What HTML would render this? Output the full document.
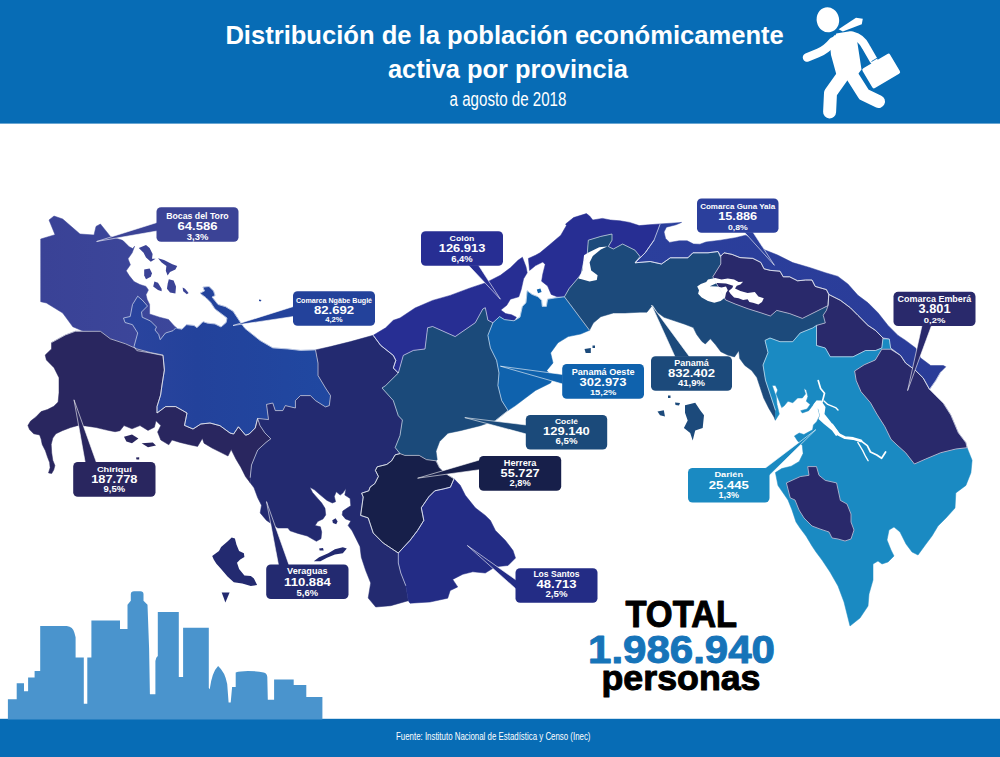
<!DOCTYPE html>
<html lang="es"><head><meta charset="utf-8"><title>Distribución de la población económicamente activa por provincia</title>
<style>
html,body{margin:0;padding:0;background:#fff}
body{width:1000px;height:757px;overflow:hidden;position:relative;font-family:"Liberation Sans",sans-serif}
svg{position:absolute;left:0;top:0;display:block}
text{font-family:"Liberation Sans",sans-serif}
.b{font-weight:bold}
.w{fill:#fff}
</style></head><body>
<svg width="1000" height="757" viewBox="0 0 1000 757">
<defs>
<linearGradient id="gn" gradientUnits="userSpaceOnUse" x1="125" y1="0" x2="330" y2="0"><stop offset="0" stop-color="#2b449e"/><stop offset="0.35" stop-color="#23429b"/><stop offset="1" stop-color="#2048a1"/></linearGradient>
<linearGradient id="gb" gradientUnits="userSpaceOnUse" x1="40" y1="0" x2="180" y2="0"><stop offset="0" stop-color="#3a4296"/><stop offset="1" stop-color="#3c479b"/></linearGradient>
<linearGradient id="gg" gradientUnits="userSpaceOnUse" x1="640" y1="230" x2="940" y2="380"><stop offset="0" stop-color="#2b3f9c"/><stop offset="1" stop-color="#2a3c98"/></linearGradient>
</defs>
<rect x="0" y="0" width="1000" height="757" fill="#fff"/>
<!-- header -->
<rect x="0" y="0" width="1000" height="123.6" fill="#076cb5"/>
<text class="b w" x="225.4" y="43.5" font-size="25" textLength="558.4" lengthAdjust="spacingAndGlyphs">Distribución de la población económicamente</text>
<text class="b w" x="387.9" y="78" font-size="25" textLength="240" lengthAdjust="spacingAndGlyphs">activa por provincia</text>
<text class="w" x="449.6" y="106" font-size="19.5" textLength="116.8" lengthAdjust="spacingAndGlyphs">a agosto de 2018</text>
<!-- running man icon -->
<g fill="#fff" stroke="none">
<ellipse cx="827.9" cy="19.8" rx="11.2" ry="12.6" transform="rotate(-12 827.9 19.8)"/>
<polygon points="838.6,29.2 856,17.8 862.8,18.8 861.8,24.2 842.8,31.6"/>
<path d="M829.6,40.5 L836.2,33.5 L850,31.2 Q856,33 857.6,44 L861.5,69.4 L852,82 L836.5,75 L831,55 Z"/>
<rect x="-16" y="-11.5" width="32" height="23" rx="2" transform="translate(881.2,71) rotate(-30.5)"/>
</g>
<g fill="none" stroke="#fff" stroke-linecap="round" stroke-linejoin="round">
<path d="M833,41.5 Q826,50 818,53 L807,57.5" stroke-width="8.5"/>
<path d="M852,35.5 Q862,38 866,47 L873.5,60" stroke-width="8.2"/>
<path d="M844,74 L830.5,93 L829.6,112" stroke-width="13"/>
<path d="M851,74 L864,94.5 L878.5,101.5" stroke-width="13"/>
</g>
<path d="M871.5,61.5 l6.5,-3.8" stroke="#076cb5" stroke-width="0.9" fill="none"/>
<polygon fill="#076cb5" points="832.6,32.6 837,31.6 835.4,35.4"/>
<!-- footer -->
<rect x="0" y="718.8" width="1000" height="38.2" fill="#076cb5"/>
<text class="w" x="396" y="739.6" font-size="10.5" textLength="194.5" lengthAdjust="spacingAndGlyphs">Fuente: Instituto Nacional de Estadística y Censo (Inec)</text>
<!-- skyline -->
<path fill="#4a94cd" d="M7.9,719.5 V699.3 H16.7 V683.2 H24 V691.2 H28.1 V677.6 H34.6 V671 H40.2 V625.9 H66.8 Q73,626.5 74.4,632.8 L75.6,637.3 V657.4 H83.8 V703.8 H87.3 V657.4 H91.4 V620.6 H120 V629 H127.5 V604.8 L130.8,600.8 V594 Q131,591.4 134,591.3 H140.5 Q143.3,591.4 143.5,594 V600.8 L147.5,604.8 L149.1,648.4 L149.9,694.3 H155.4 V661 Q156,657 157.8,656 V611.9 H178.8 V676.9 H183.1 V627.8 H208.8 V688 L209.7,689.2 Q212,672 218.1,666 Q225,672 227.2,684 L228.6,702.5 H230.7 L232.1,687.1 H235.7 V672.4 Q240,671.2 248,671 Q258,671 263.6,672.4 Q267,673 267.3,677 L267.8,699.7 H274.1 V679.4 H293.7 V685 H306.3 V696.9 H322.4 V719.5 Z"/>
<!-- total -->
<text class="b" x="625.4" y="626.6" font-size="36.5" fill="#000" stroke="#000" stroke-width="1" stroke-linejoin="round" textLength="111.7" lengthAdjust="spacingAndGlyphs">TOTAL</text>
<text class="b" x="588" y="662.6" font-size="38.2" fill="#1674b9" stroke="#1674b9" stroke-width="1" stroke-linejoin="round" textLength="187" lengthAdjust="spacingAndGlyphs">1.986.940</text>
<text class="b" x="601.5" y="690.4" font-size="35" fill="#000" stroke="#000" stroke-width="1" stroke-linejoin="round" textLength="159" lengthAdjust="spacingAndGlyphs">personas</text>
<!-- map -->
<g stroke-linejoin="round">
<polygon fill="url(#gb)" stroke="url(#gb)" stroke-width="0.5" points="40.7,239.0 55.0,234.7 49.0,220.0 54.0,216.0 62.7,219.0 80.0,234.0 94.0,235.0 96.0,226.4 100.4,224.0 110.4,236.4 121.7,240.0 123.2,240.8 129.2,246.8 132.8,248.6 134.6,246.2 132.2,252.8 128.0,258.8 130.4,264.8 126.2,270.8 129.2,275.6 134.0,281.6 140.0,284.6 146.0,286.4 148.4,290.0 146.0,294.8 147.2,299.6 149.6,304.4 149.6,314.0 159.5,317.2 168.5,319.5 174.5,326.2 177.5,328.5 176.0,335.0 165.0,345.0 160.0,357.0 136.8,350.6 125.5,345.6 110.4,339.3 100.4,331.8 82.8,331.0 72.8,326.8 62.7,313.0 46.4,303.0 40.7,301.7"/>
<polygon fill="url(#gn)" stroke="url(#gn)" stroke-width="0.5" points="177.5,328.5 182.0,329.2 186.5,324.7 194.0,325.5 197.0,327.7 203.0,321.7 207.5,323.2 215.0,324.0 221.0,327.0 226.2,322.5 227.0,318.0 221.0,313.5 215.0,309.0 210.5,302.2 206.0,297.7 200.0,293.2 204.5,291.0 203.0,287.2 209.0,286.5 213.5,291.0 215.0,295.5 212.0,297.0 218.0,304.5 225.5,306.7 233.0,311.2 237.5,318.0 240.5,322.5 245.0,328.5 252.5,334.5 260.0,340.5 272.8,347.9 287.9,349.0 300.4,350.4 315.5,349.9 318.0,363.0 318.0,375.5 325.5,388.0 330.5,395.6 329.3,405.6 325.5,406.9 315.5,400.6 310.4,395.6 300.4,395.6 295.4,400.6 295.4,408.0 285.3,405.6 282.8,410.6 275.3,410.6 272.8,403.0 266.5,404.4 268.5,419.6 257.6,418.4 255.2,428.0 249.2,434.0 245.6,435.2 238.4,426.8 233.6,434.0 230.0,433.0 220.0,425.7 210.0,423.0 200.8,424.0 193.0,429.0 184.5,425.4 187.0,413.0 175.7,406.6 165.7,406.6 157.0,413.0 157.0,406.6 160.6,395.0 162.0,385.0 164.4,370.0 163.0,355.5 150.6,353.0 136.8,350.6 134.0,346.5 137.7,333.0 132.5,324.7 125.0,322.5 123.5,318.0 130.2,316.5 132.5,304.5 137.7,296.2 142.2,300.0 147.5,306.0 141.5,312.0 142.2,317.2 150.5,321.0 156.5,327.0 155.0,330.0 158.7,334.5 160.2,339.7 165.5,333.0 173.0,330.7 176.0,327.7"/>
<polygon fill="#29265f" stroke="#29265f" stroke-width="0.5" points="51.5,342.6 65.3,335.0 75.3,331.3 100.4,331.3 110.4,338.8 125.5,343.8 136.8,348.9 150.6,352.6 163.0,355.0 164.4,370.0 162.0,385.0 160.6,395.0 157.0,406.6 157.0,413.0 165.7,406.6 175.7,406.6 187.0,413.0 184.5,425.4 193.0,429.0 200.8,424.0 210.0,423.0 220.0,425.7 230.0,433.0 233.6,434.0 238.4,426.8 245.6,435.2 249.2,434.0 255.2,428.0 257.6,418.4 260.0,425.6 264.8,432.8 270.8,438.8 266.0,442.4 257.7,450.0 251.5,465.0 250.2,477.7 250.2,482.7 245.6,476.8 240.8,467.2 236.0,459.2 231.2,449.6 228.0,456.0 221.6,452.8 212.0,448.0 204.0,443.2 202.4,438.4 197.6,446.4 189.6,444.8 180.0,442.4 172.0,440.0 168.8,444.8 160.8,440.0 157.6,432.0 160.8,425.6 156.0,420.8 154.4,427.2 148.0,430.4 140.0,425.6 132.0,428.8 124.0,425.6 120.0,430.7 115.1,431.7 109.9,430.7 104.6,429.6 96.1,427.5 85.5,425.9 78.1,425.4 70.7,427.5 62.3,430.7 55.9,433.8 52.8,438.1 51.2,444.4 51.7,452.9 52.8,460.3 54.9,465.5 53.8,469.8 51.7,473.5 48.5,472.9 50.1,467.7 49.6,462.4 47.5,457.1 45.4,450.7 42.2,444.4 41.1,439.1 39.6,434.9 33.7,433.8 29.5,429.6 27.9,425.4 30.6,421.1 35.9,416.9 41.1,411.6 47.5,409.5 53.8,406.3 58.1,402.1 59.0,392.8 59.0,377.7 54.0,367.7 46.4,360.0 45.2,355.0 51.5,348.9"/>
<polygon fill="#232a70" stroke="#232a70" stroke-width="0.5" points="315.5,349.9 330.5,346.6 350.6,341.6 373.2,335.3 380.7,345.4 393.3,355.4 395.8,360.4 393.3,368.0 398.3,373.0 385.7,385.5 382.0,388.0 393.3,400.6 398.3,415.7 402.4,420.0 400.0,435.6 395.2,447.6 400.0,453.6 395.2,454.8 391.6,460.8 386.8,464.4 377.2,466.8 375.4,470.4 378.4,476.4 374.8,483.6 370.0,487.2 368.8,490.8 361.6,493.2 363.2,497.0 360.6,515.4 368.2,517.9 373.2,533.0 383.2,543.0 398.3,553.0 398.3,563.0 400.8,573.0 405.8,585.7 408.3,600.7 390.8,605.7 375.7,607.0 368.2,598.0 370.7,583.0 365.7,570.6 361.3,557.2 360.0,546.6 356.1,538.7 352.1,530.8 348.1,525.5 350.8,520.9 345.5,518.9 342.2,514.9 342.8,511.0 346.8,508.3 350.8,505.7 350.1,498.4 344.8,495.1 346.1,488.5 342.8,493.1 340.2,495.1 336.2,491.8 334.3,496.4 335.6,501.7 332.3,503.0 327.0,500.4 320.4,495.1 314.4,489.8 309.8,487.2 312.5,492.5 317.7,498.4 321.7,503.0 325.0,508.3 325.7,514.9 323.0,518.9 317.7,521.5 315.1,525.5 320.4,526.8 321.7,532.1 321.0,538.7 316.4,541.3 307.2,536.0 297.9,533.4 290.0,530.8 287.9,528.0 277.8,528.0 266.5,520.4 260.2,512.9 261.5,505.3 257.7,497.8 254.0,487.8 250.2,482.7 250.2,477.7 251.5,465.0 257.7,450.0 266.0,442.4 270.8,438.8 264.8,432.8 260.0,425.6 257.6,418.4 268.5,419.6 266.5,404.4 272.8,403.0 275.3,410.6 282.8,410.6 285.3,405.6 295.4,408.0 295.4,400.6 300.4,395.6 310.4,395.6 315.5,400.6 325.5,406.9 329.3,405.6 330.5,395.6 325.5,388.0 318.0,375.5 318.0,363.0"/>
<polygon fill="#1b4a7a" stroke="#1b4a7a" stroke-width="0.5" points="398.3,373.0 403.3,355.4 413.4,350.4 425.0,349.0 427.6,327.8 432.6,326.5 455.2,336.6 475.3,322.7 482.8,309.0 485.3,307.7 487.9,320.2 492.9,322.7 487.9,335.3 490.4,347.9 496.6,360.4 499.0,373.0 497.9,385.5 501.7,400.6 508.0,410.6 495.4,420.6 480.3,425.7 460.2,430.7 448.0,433.2 439.6,441.6 436.0,451.2 437.2,459.6 436.0,460.8 426.4,459.6 419.2,455.4 404.8,455.4 400.0,453.6 395.2,447.6 400.0,435.6 402.4,420.0 398.3,415.7 393.3,400.6 382.0,388.0 385.7,385.5"/>
<polygon fill="#171f4a" stroke="#171f4a" stroke-width="0.5" points="395.2,454.8 400.0,453.6 404.8,455.4 419.2,455.4 426.4,459.6 436.0,460.8 439.6,468.0 448.0,475.2 454.0,478.8 450.4,487.2 443.2,489.0 434.8,490.8 428.8,496.8 421.3,507.8 423.8,520.4 417.6,530.4 410.0,540.4 398.3,553.0 383.2,543.0 373.2,533.0 368.2,517.9 360.6,515.4 363.2,497.0 361.6,493.2 368.8,490.8 370.0,487.2 374.8,483.6 378.4,476.4 375.4,470.4 377.2,466.8 386.8,464.4 391.6,460.8"/>
<polygon fill="#232c85" stroke="#232c85" stroke-width="0.5" points="454.0,478.8 460.2,485.2 465.3,495.3 475.3,507.8 485.3,515.4 490.4,520.4 495.4,530.4 505.4,540.4 513.0,550.5 515.5,558.0 508.0,565.5 495.4,566.8 485.3,573.0 472.8,571.8 462.8,574.3 452.7,579.4 457.7,586.9 450.2,590.6 447.7,598.2 430.0,602.0 410.0,603.2 408.3,600.7 405.8,585.7 400.8,573.0 398.3,563.0 398.3,553.0 410.0,540.4 417.6,530.4 423.8,520.4 421.3,507.8 428.8,496.8 434.8,490.8 443.2,489.0 450.4,487.2"/>
<polygon fill="#272e93" stroke="#272e93" stroke-width="0.5" points="373.2,335.3 385.7,327.8 393.3,320.3 400.0,318.0 415.0,308.0 432.6,300.4 450.2,295.4 470.3,287.9 485.3,282.9 500.4,275.3 510.4,267.8 518.0,260.3 522.4,257.2 526.0,266.8 527.2,272.8 523.6,278.8 521.2,289.6 518.8,296.8 510.4,299.2 506.8,305.2 500.8,310.0 505.6,313.6 511.6,314.8 516.4,317.2 514.0,320.8 504.4,319.6 499.6,316.6 492.9,322.7 487.9,320.2 485.3,307.7 482.8,309.0 475.3,322.7 455.2,336.6 432.6,326.5 427.6,327.8 425.0,349.0 413.4,350.4 403.3,355.4 398.3,373.0 393.3,368.0 395.8,360.4 393.3,355.4 380.7,345.4"/>
<polygon fill="#272e93" stroke="#272e93" stroke-width="0.5" points="528.4,258.4 535.5,255.3 540.0,252.8 549.6,244.8 560.8,235.2 566.4,225.6 565.6,224.0 573.6,217.6 586.4,213.6 589.6,216.0 592.8,220.0 602.4,218.4 610.4,220.0 620.0,220.8 629.6,222.4 639.2,225.6 648.8,224.8 660.2,223.9 654.0,240.2 645.2,252.8 635.0,262.8 640.0,256.5 635.0,250.2 622.6,244.0 613.4,249.0 608.3,246.5 612.0,240.2 612.0,234.0 600.8,236.4 588.3,240.2 587.0,257.8 583.6,262.0 581.2,274.0 576.4,280.0 569.2,288.4 564.4,296.8 557.2,296.8 551.2,294.4 547.6,286.0 541.6,281.2 542.8,274.0 545.2,264.4 542.8,262.0 535.6,265.6 529.6,270.4"/>
<polygon fill="#0f62ad" stroke="#0f62ad" stroke-width="0.5" points="492.9,322.7 499.6,316.6 504.4,319.6 514.0,320.8 520.0,317.2 522.4,306.4 526.0,302.8 527.2,290.8 532.0,294.4 538.0,296.8 541.6,300.4 542.2,306.4 546.4,306.4 547.6,299.2 554.8,298.0 564.4,296.8 572.8,307.6 581.2,319.6 589.5,330.3 580.7,334.0 568.2,336.6 558.0,342.8 550.6,352.9 553.0,362.9 546.8,370.4 553.0,378.0 550.6,383.0 535.5,390.5 525.5,398.0 515.5,405.6 508.0,410.6 501.7,400.6 497.9,385.5 499.0,373.0 496.6,360.4 490.4,347.9 487.9,335.3"/>
<polygon fill="#1c4a7b" stroke="#1c4a7b" stroke-width="0.5" points="564.4,296.8 569.2,288.4 576.4,280.0 581.2,274.0 583.6,262.0 587.0,257.8 588.3,240.2 600.8,236.4 612.0,234.0 612.0,240.2 608.3,246.5 613.4,249.0 622.6,244.0 635.0,250.2 640.0,256.5 635.0,262.8 650.2,261.5 661.5,264.0 670.3,257.8 687.9,257.8 692.9,252.8 708.0,252.8 718.0,251.5 720.5,257.3 720.8,264.0 712.8,276.8 725.6,300.0 735.2,304.0 748.0,308.8 760.8,312.8 770.4,316.0 776.8,310.4 789.6,313.6 802.4,318.4 812.0,313.6 821.6,308.8 828.0,305.6 829.0,307.8 826.6,310.3 825.3,322.9 816.5,325.4 812.8,327.9 800.2,333.0 792.7,341.7 780.0,341.7 770.0,338.0 765.0,340.4 768.0,352.6 763.0,365.0 765.5,380.2 770.5,395.3 775.5,410.3 775.4,420.2 774.0,417.0 768.9,408.4 763.7,398.1 760.3,387.8 756.9,377.5 751.7,370.6 744.8,365.4 739.7,358.6 738.8,350.8 734.5,356.9 727.6,355.1 720.8,351.7 715.6,344.8 710.4,338.8 705.3,344.0 701.9,341.4 696.7,334.5 693.3,327.6 684.7,324.2 674.4,320.8 664.0,317.3 657.2,312.2 652.9,305.3 650.3,307.9 646.9,312.2 640.0,312.2 625.0,313.0 613.4,313.0 600.8,316.7 593.3,323.0 589.5,330.3 581.2,319.6 572.8,307.6"/>
<polygon fill="url(#gg)" stroke="url(#gg)" stroke-width="0.5" points="660.2,223.9 671.2,223.2 681.6,222.4 676.0,224.8 666.4,227.2 664.0,232.0 665.6,238.4 669.6,242.4 679.2,240.8 687.2,240.8 693.6,244.0 700.0,244.2 706.0,242.0 720.5,240.2 735.5,237.7 745.6,235.2 755.6,240.2 765.0,250.0 777.6,255.0 792.7,262.6 810.2,267.7 825.3,272.7 837.9,276.4 847.9,284.0 857.9,295.3 868.0,302.8 878.0,312.8 888.0,325.4 898.0,335.4 905.6,340.4 915.7,348.0 920.7,358.0 930.7,365.5 943.3,365.5 945.8,366.8 940.8,371.8 935.7,380.6 929.5,389.4 923.2,378.0 915.7,370.6 905.6,363.0 900.6,355.5 890.6,348.0 889.3,339.0 883.0,338.0 875.5,330.4 868.0,325.4 857.9,315.3 850.4,307.8 840.4,300.3 830.3,295.3 828.8,294.4 826.4,289.6 815.2,286.4 812.0,280.0 805.6,280.0 797.6,280.8 789.6,276.8 783.2,276.8 780.0,271.2 770.4,270.4 764.0,268.8 760.8,262.4 752.8,258.4 740.0,257.6 732.0,254.4 724.0,252.8 720.8,256.0 718.0,251.5 708.0,252.8 692.9,252.8 687.9,257.8 670.3,257.8 661.5,264.0 650.2,261.5 635.0,262.8 645.2,252.8 654.0,240.2"/>
<polygon fill="#29296b" stroke="#29296b" stroke-width="0.5" points="720.8,256.0 724.0,252.8 732.0,254.4 740.0,257.6 752.8,258.4 760.8,262.4 764.0,268.8 770.4,270.4 780.0,271.2 783.2,276.8 789.6,276.8 797.6,280.8 805.6,280.0 812.0,280.0 815.2,286.4 826.4,289.6 828.8,294.4 828.0,305.6 821.6,308.8 812.0,313.6 802.4,318.4 789.6,313.6 776.8,310.4 770.4,316.0 760.8,312.8 748.0,308.8 735.2,304.0 725.6,300.0 712.8,276.8 720.8,264.0"/>
<polygon fill="#29296b" stroke="#29296b" stroke-width="0.5" points="828.8,294.4 840.4,300.3 850.4,307.8 857.9,315.3 868.0,325.4 875.5,330.4 883.0,338.0 881.8,348.0 875.5,350.5 865.5,350.5 853.0,356.8 830.3,356.8 825.3,348.0 816.5,345.5 816.5,325.4 825.3,322.9 823.2,315.2 826.4,310.4 828.0,305.6"/>
<polygon fill="#1a8ac2" stroke="#1a8ac2" stroke-width="0.5" points="765.0,340.4 770.0,338.0 780.0,341.7 792.7,341.7 800.2,333.0 812.8,327.9 816.5,325.4 816.5,345.5 825.3,348.0 830.3,356.8 853.0,356.8 865.5,350.5 875.5,350.5 881.8,348.0 883.0,339.2 889.3,339.2 890.6,349.2 881.8,349.2 875.3,360.0 864.2,364.8 854.6,371.0 856.2,380.6 861.0,391.7 870.5,402.8 876.8,414.0 884.8,426.6 891.0,439.3 897.0,445.0 905.6,452.7 914.4,464.0 925.7,459.0 940.8,452.7 955.8,449.0 967.1,447.7 972.1,460.3 970.9,472.8 965.9,485.4 955.8,492.9 955.0,508.0 946.0,518.0 938.0,526.0 932.0,536.0 926.0,544.0 918.0,555.0 912.0,552.0 906.0,544.0 900.0,532.0 894.0,527.0 889.0,530.0 887.0,540.0 891.0,550.0 894.0,556.0 888.0,562.0 882.0,564.0 878.0,561.0 873.0,564.0 873.0,580.0 869.0,594.0 868.0,606.0 860.0,618.0 850.0,626.0 848.0,618.0 844.0,602.0 838.0,586.0 830.0,572.0 822.0,560.0 816.0,552.0 812.0,546.0 806.0,536.0 800.0,528.0 796.0,522.0 792.0,510.0 788.0,500.0 778.0,485.6 775.4,472.6 781.7,468.6 791.2,466.2 799.2,461.5 803.1,453.5 802.3,445.6 797.6,440.9 794.4,436.0 799.2,433.0 803.9,434.5 812.6,429.8 813.4,425.0 816.6,421.8 819.8,415.5 818.2,409.0 819.8,401.2 816.6,400.4 813.4,404.4 808.7,410.7 802.3,413.0 800.7,410.7 807.0,409.0 810.2,404.4 806.3,401.2 807.9,396.5 806.3,390.0 803.9,388.5 805.5,394.0 802.3,398.0 797.6,398.0 792.8,402.8 788.0,401.2 784.0,406.0 781.7,407.6 779.3,401.2 776.2,394.0 777.7,390.0 775.4,385.4 772.2,385.4 773.8,390.0 776.2,396.5 777.0,404.4 779.3,414.0 775.4,420.2 775.5,410.3 770.5,395.3 765.5,380.2 763.0,365.0 768.0,352.6"/>
<polygon fill="#29296b" stroke="#29296b" stroke-width="0.5" points="881.8,349.2 890.6,349.2 900.6,355.5 905.6,363.0 915.7,370.6 923.2,378.0 929.5,389.4 935.7,395.7 943.3,403.2 950.8,415.0 958.3,432.7 965.9,442.7 967.1,447.7 955.8,449.0 940.8,452.7 925.7,459.0 914.4,464.0 905.6,452.7 897.0,445.0 891.0,439.3 884.8,426.6 876.8,414.0 870.5,402.8 861.0,391.7 856.2,380.6 854.6,371.0 864.2,364.8 875.3,360.0"/>
<polygon fill="#29296b" stroke="#29296b" stroke-width="0.5" points="807.7,466.6 816.5,466.6 819.0,475.3 825.3,480.4 836.6,482.9 840.4,500.4 847.0,504.0 851.0,514.0 851.0,522.0 854.0,530.0 851.0,539.0 845.0,541.0 838.0,539.0 832.0,538.0 829.0,532.0 820.0,529.0 812.0,526.0 804.0,518.0 799.0,510.0 795.0,500.0 790.2,497.9 786.4,482.9 800.2,476.6 809.0,475.3"/>
<polygon fill="#3b4396" points="138.8,248.0 146.0,245.0 149.6,248.0 152.6,254.0 152.0,258.8 155.6,258.8 150.8,261.8 146.0,257.6 143.6,252.8"/>
<polygon fill="#3b4396" points="158.0,258.2 164.0,260.0 172.4,264.2 177.2,266.0 175.4,269.6 170.0,272.0 167.6,275.6 165.8,270.8 166.4,266.0 161.6,262.4"/>
<polygon fill="#3b4396" points="144.2,269.6 149.6,268.4 152.0,273.2 150.8,276.8 146.0,279.2 144.2,275.6"/>
<polygon fill="#3b4396" points="154.4,281.6 158.0,282.8 161.6,288.8 161.6,291.2 158.0,290.0 153.2,286.4"/>
<polygon fill="#3b4396" points="168.8,279.2 173.6,280.4 176.0,286.4 175.4,293.6 170.0,292.4 167.0,288.8 167.6,284.0"/>
<polygon fill="#3b4396" points="182.6,287.6 185.0,288.8 188.6,293.0 186.8,294.2 183.2,291.2"/>
<polygon fill="#23429b" points="259.0,299.5 261.5,300.0 260.5,301.5 259.0,301.0"/>
<polygon fill="#29265f" points="124.0,436.8 132.0,434.4 138.4,438.4 132.0,443.2 126.4,441.6"/>
<polygon fill="#29265f" points="141.6,443.2 152.8,442.4 156.0,445.6 148.0,447.2"/>
<polygon fill="#29265f" points="136.0,457.6 139.2,457.2 139.2,459.4 136.5,459.4"/>
<polygon fill="#232a70" points="212.2,555.9 219.0,551.1 221.1,546.9 227.5,541.6 231.7,537.4 234.9,538.5 236.5,544.8 239.1,551.1 243.9,553.3 244.4,557.0 240.2,559.6 237.0,562.8 239.1,569.1 244.4,575.5 250.8,576.0 253.9,578.6 257.1,585.0 250.8,586.0 242.3,583.4 233.8,582.3 227.5,576.5 221.1,569.1 216.4,563.8 213.7,559.6"/>
<polygon fill="#232a70" points="221.7,592.4 229.6,592.4 225.4,602.4"/>
<polygon fill="#232a70" points="313.8,561.2 319.1,557.2 328.3,553.2 334.9,549.3 342.8,547.3 346.8,548.6 342.8,553.2 334.9,554.5 327.0,557.8 320.4,561.2"/>
<polygon fill="#232a70" points="319.1,548.6 323.0,547.9 323.7,550.6 319.7,550.6"/>
<polygon fill="#232a70" points="332.3,520.2 335.6,518.2 337.6,521.5 336.2,524.2 332.9,522.9"/>
<polygon fill="#0f62ad" points="536.8,289.6 540.4,288.4 541.6,292.0 538.0,293.2"/>
<polygon fill="#1c4a7b" points="584.5,349.0 590.8,347.9 590.8,352.9 585.7,352.9"/>
<polygon fill="#1c4a7b" points="592.5,345.5 595.0,345.5 595.0,348.0 592.5,348.0"/>
<polygon fill="#1c4a7b" points="685.0,405.3 695.2,402.8 700.2,410.3 704.0,415.3 702.7,427.9 695.2,430.4 692.7,440.4 690.2,432.9 683.9,427.9 687.7,420.4 685.0,412.8"/>
<polygon fill="#1c4a7b" points="657.5,411.6 663.8,410.3 665.0,416.6 660.0,415.3"/>
<polygon fill="#1c4a7b" points="675.0,402.5 680.0,403.0 679.0,405.5 675.5,405.0"/>
<polygon fill="#1c4a7b" points="668.0,395.5 670.5,395.5 670.5,398.0 668.0,398.0"/>
<polygon fill="#fff" points="584.0,255.2 588.0,252.8 599.2,247.2 607.2,246.4 600.8,249.6 592.8,256.0 589.6,262.4 591.2,270.4 597.6,275.2 596.8,280.0 589.6,281.6 581.6,279.2 578.4,278.4 582.4,270.4 583.2,262.4"/>
<polygon fill="#fff" points="697.2,286.6 700.8,283.9 706.2,282.1 708.0,279.4 715.2,278.0 721.5,279.4 727.8,278.5 734.1,279.4 738.6,282.1 743.1,281.7 740.4,284.4 736.8,285.7 735.0,288.4 740.4,291.1 747.6,292.9 754.8,292.0 758.4,296.5 763.8,298.3 762.0,301.9 758.4,304.6 753.0,302.8 749.4,301.9 747.6,299.2 743.1,300.1 738.6,298.3 734.1,297.4 730.5,293.8 728.7,291.1 732.3,288.0 733.2,285.7 726.0,283.5 717.0,283.0 709.8,286.2 717.0,286.6 721.5,287.5 726.0,286.6 727.8,290.2 726.0,292.9 725.1,297.4 720.6,301.0 714.3,302.8 708.0,301.0 701.7,297.4 698.1,293.8 699.0,290.2"/>
<polygon fill="#fff" points="813.4,404.4 816.6,400.4 821.0,400.5 825.5,407.0 824.5,414.0 829.3,420.0 835.6,428.2 840.0,434.0 836.0,436.0 832.0,430.5 824.0,424.0 818.5,419.0 819.8,415.5 818.2,409.0"/>
<polyline fill="none" stroke="#fff" stroke-width="2.8" stroke-linecap="round" points="832.0,425.0 838.8,434.5 845.1,437.7 853.1,438.5 861.0,440.9"/>
<polyline fill="none" stroke="#fff" stroke-width="1.7" stroke-linecap="round" points="861.0,440.9 867.3,445.6 870.5,452.0 876.8,455.0 881.6,458.3 885.6,452.0"/>
<polyline fill="none" stroke="#fff" stroke-width="1.3" stroke-linecap="round" points="857.8,442.4 862.6,450.4 865.7,456.7 868.1,460.7"/>
<polyline fill="none" stroke="#fff" stroke-width="1.7" stroke-linecap="round" points="818.2,380.6 820.6,388.5 824.5,393.3 822.9,399.6 821.0,404.0"/>
<polyline fill="none" stroke="#fff" stroke-width="1.4" stroke-linecap="round" points="824.0,401.0 827.7,404.4 835.6,407.6 838.0,410.0"/>
<g fill="none" stroke="#eef2fb" stroke-width="0.7" stroke-opacity="0.9">
<polyline points="177.5,328.5 182.0,329.2 186.5,324.7 194.0,325.5 197.0,327.7 203.0,321.7 207.5,323.2 215.0,324.0 221.0,327.0 226.2,322.5 227.0,318.0 221.0,313.5 215.0,309.0 210.5,302.2 206.0,297.7 200.0,293.2 204.5,291.0 203.0,287.2 209.0,286.5 213.5,291.0 215.0,295.5 212.0,297.0 218.0,304.5 225.5,306.7 233.0,311.2 237.5,318.0 240.5,322.5 245.0,328.5 252.5,334.5 260.0,340.5 272.8,347.9 287.9,349.0 300.4,350.4 315.5,349.9 318.0,363.0 318.0,375.5 325.5,388.0 330.5,395.6 329.3,405.6 325.5,406.9 315.5,400.6 310.4,395.6 300.4,395.6 295.4,400.6 295.4,408.0 285.3,405.6 282.8,410.6 275.3,410.6 272.8,403.0 266.5,404.4 268.5,419.6 257.6,418.4 255.2,428.0 249.2,434.0 245.6,435.2 238.4,426.8 233.6,434.0 230.0,433.0 220.0,425.7 210.0,423.0 200.8,424.0 193.0,429.0 184.5,425.4 187.0,413.0 175.7,406.6 165.7,406.6 157.0,413.0 157.0,406.6 160.6,395.0 162.0,385.0 164.4,370.0 163.0,355.5 150.6,353.0 136.8,350.6 134.0,346.5 137.7,333.0 132.5,324.7 125.0,322.5 123.5,318.0 130.2,316.5 132.5,304.5 137.7,296.2 142.2,300.0 147.5,306.0 141.5,312.0 142.2,317.2 150.5,321.0 156.5,327.0 155.0,330.0 158.7,334.5 160.2,339.7 165.5,333.0 173.0,330.7 176.0,327.7 177.5,328.5"/>
<polyline points="51.5,342.6 65.3,335.0 75.3,331.3 100.4,331.3 110.4,338.8 125.5,343.8 136.8,348.9 150.6,352.6 163.0,355.0 164.4,370.0 162.0,385.0 160.6,395.0 157.0,406.6 157.0,413.0 165.7,406.6 175.7,406.6 187.0,413.0 184.5,425.4 193.0,429.0 200.8,424.0 210.0,423.0 220.0,425.7 230.0,433.0 233.6,434.0 238.4,426.8 245.6,435.2 249.2,434.0 255.2,428.0 257.6,418.4"/>
<polyline points="373.2,335.3 380.7,345.4 393.3,355.4 395.8,360.4 393.3,368.0 398.3,373.0 385.7,385.5 382.0,388.0 393.3,400.6 398.3,415.7 402.4,420.0 400.0,435.6 395.2,447.6 400.0,453.6 395.2,454.8 391.6,460.8 386.8,464.4 377.2,466.8 375.4,470.4 378.4,476.4 374.8,483.6 370.0,487.2 368.8,490.8 361.6,493.2 363.2,497.0 360.6,515.4 368.2,517.9 373.2,533.0 383.2,543.0 398.3,553.0 398.3,563.0 400.8,573.0 405.8,585.7"/>
<polyline points="395.2,454.8 400.0,453.6 404.8,455.4 419.2,455.4 426.4,459.6 436.0,460.8 439.6,468.0 448.0,475.2 454.0,478.8 450.4,487.2 443.2,489.0 434.8,490.8 428.8,496.8 421.3,507.8 423.8,520.4 417.6,530.4 410.0,540.4 398.3,553.0 383.2,543.0 373.2,533.0 368.2,517.9 360.6,515.4 363.2,497.0 361.6,493.2 368.8,490.8 370.0,487.2 374.8,483.6 378.4,476.4 375.4,470.4 377.2,466.8 386.8,464.4 391.6,460.8 395.2,454.8"/>
<polyline points="398.3,373.0 403.3,355.4 413.4,350.4 425.0,349.0 427.6,327.8 432.6,326.5 455.2,336.6 475.3,322.7 482.8,309.0 485.3,307.7 487.9,320.2 492.9,322.7 487.9,335.3 490.4,347.9 496.6,360.4 499.0,373.0 497.9,385.5 501.7,400.6 508.0,410.6 495.4,420.6"/>
<polyline points="492.9,322.7 499.6,316.6 504.4,319.6 514.0,320.8 520.0,317.2 522.4,306.4 526.0,302.8 527.2,290.8 532.0,294.4 538.0,296.8 541.6,300.4 542.2,306.4 546.4,306.4 547.6,299.2 554.8,298.0 564.4,296.8 589.5,330.3"/>
<polyline points="564.4,296.8 569.2,288.4 576.4,280.0 581.2,274.0 583.6,262.0 587.0,257.8 588.3,240.2 600.8,236.4 612.0,234.0 612.0,240.2 608.3,246.5 613.4,249.0 622.6,244.0 635.0,250.2 640.0,256.5 635.0,262.8 650.2,261.5 661.5,264.0 670.3,257.8 687.9,257.8 692.9,252.8 708.0,252.8 718.0,251.5 720.5,257.3"/>
<polyline points="720.8,256.0 724.0,252.8 732.0,254.4 740.0,257.6 752.8,258.4 760.8,262.4 764.0,268.8 770.4,270.4 780.0,271.2 783.2,276.8 789.6,276.8 797.6,280.8 805.6,280.0 812.0,280.0 815.2,286.4 826.4,289.6 828.8,294.4 828.0,305.6 821.6,308.8 812.0,313.6 802.4,318.4 789.6,313.6 776.8,310.4 770.4,316.0 760.8,312.8 748.0,308.8 735.2,304.0 725.6,300.0 712.8,276.8 720.8,264.0 720.8,256.0"/>
<polyline points="828.8,294.4 840.4,300.3 850.4,307.8 857.9,315.3 868.0,325.4 875.5,330.4 883.0,338.0 881.8,348.0 875.5,350.5 865.5,350.5 853.0,356.8 830.3,356.8 825.3,348.0 816.5,345.5 816.5,325.4 825.3,322.9 823.2,315.2 826.4,310.4 828.0,305.6 828.8,294.4"/>
<polyline points="881.8,349.2 890.6,349.2 900.6,355.5 905.6,363.0 915.7,370.6 923.2,378.0 929.5,389.4 935.7,395.7 943.3,403.2 950.8,415.0 958.3,432.7 965.9,442.7 967.1,447.7 955.8,449.0 940.8,452.7 925.7,459.0 914.4,464.0 905.6,452.7 897.0,445.0 891.0,439.3 884.8,426.6 876.8,414.0 870.5,402.8 861.0,391.7 856.2,380.6 854.6,371.0 864.2,364.8 875.3,360.0 881.8,349.2"/>
<polyline points="807.7,466.6 816.5,466.6 819.0,475.3 825.3,480.4 836.6,482.9 840.4,500.4 847.0,504.0 851.0,514.0 851.0,522.0 854.0,530.0 851.0,539.0 845.0,541.0 838.0,539.0 832.0,538.0 829.0,532.0 820.0,529.0 812.0,526.0 804.0,518.0 799.0,510.0 795.0,500.0 790.2,497.9 786.4,482.9 800.2,476.6 809.0,475.3 807.7,466.6"/>
<polyline points="940.8,371.8 935.7,380.6 929.5,389.4 923.2,378.0 915.7,370.6 905.6,363.0 900.6,355.5 890.6,348.0 889.3,339.0 883.0,338.0 875.5,330.4 868.0,325.4 857.9,315.3 850.4,307.8 840.4,300.3 830.3,295.3 828.8,294.4 826.4,289.6 815.2,286.4 812.0,280.0 805.6,280.0 797.6,280.8 789.6,276.8 783.2,276.8 780.0,271.2 770.4,270.4 764.0,268.8 760.8,262.4 752.8,258.4 740.0,257.6 732.0,254.4 724.0,252.8 720.8,256.0 718.0,251.5 708.0,252.8 692.9,252.8 687.9,257.8 670.3,257.8 661.5,264.0 650.2,261.5 635.0,262.8 645.2,252.8 654.0,240.2"/>
<polyline points="765.0,340.4 770.0,338.0 780.0,341.7 792.7,341.7 800.2,333.0 812.8,327.9 816.5,325.4"/>
<polyline points="765.0,340.4 768.0,352.6 763.0,365.0 765.5,380.2 770.5,395.3 775.5,410.3"/>
<polyline points="660.2,223.9 654.0,240.2 645.2,252.8 635.0,262.8"/>
<polyline points="398.3,373.0 393.3,368.0 395.8,360.4 393.3,355.4 380.7,345.4 373.2,335.3"/>
<polyline points="454.0,478.8 450.4,487.2 443.2,489.0 434.8,490.8 428.8,496.8 421.3,507.8 423.8,520.4 417.6,530.4 410.0,540.4 398.3,553.0"/>
<polyline points="257.6,418.4 260.0,425.6 264.8,432.8 270.8,438.8 266.0,442.4 257.7,450.0 251.5,465.0 250.2,477.7"/>
</g></g>
<!-- callouts -->
<g><polygon fill="#3b4396" points="157.0,222.5 157.0,231.0 96.6,241.5"/>
<polyline fill="none" stroke="#fff" stroke-width="0.65" stroke-opacity="0.9" points="157.0,222.5 96.6,241.5 157.0,231.0"/>
<rect x="156.5" y="207.2" width="82.0" height="34.6" rx="4.6" fill="#3b4396"/>
<text class="b w" x="166.2" y="219" font-size="8.4" textLength="62.5" lengthAdjust="spacingAndGlyphs">Bocas del Toro</text>
<text class="b w" x="177.5" y="229.8" font-size="11.6" textLength="40" lengthAdjust="spacingAndGlyphs">64.586</text>
<text class="b w" x="186.8" y="239.5" font-size="8.4" textLength="21.5" lengthAdjust="spacingAndGlyphs">3,3%</text>
</g>
<g><polygon fill="#23429b" points="293.5,306.5 293.5,316.5 233.0,325.5"/>
<polyline fill="none" stroke="#fff" stroke-width="0.65" stroke-opacity="0.9" points="293.5,306.5 233.0,325.5 293.5,316.5"/>
<rect x="293" y="291.2" width="82.0" height="34.6" rx="4.6" fill="#23429b"/>
<text class="b w" x="295.9" y="303" font-size="7.6" textLength="76.2" lengthAdjust="spacingAndGlyphs">Comarca Ngäbe Buglé</text>
<text class="b w" x="313.9" y="313.5" font-size="11.8" textLength="40.2" lengthAdjust="spacingAndGlyphs">82.692</text>
<text class="b w" x="325.2" y="322" font-size="6.6" textLength="17.5" lengthAdjust="spacingAndGlyphs">4,2%</text>
</g>
<g><polygon fill="#29265f" points="85.3,463.0 96.6,463.0 74.0,399.8"/>
<polyline fill="none" stroke="#fff" stroke-width="0.65" stroke-opacity="0.9" points="85.3,463.0 74.0,399.8 96.6,463.0"/>
<rect x="73.2" y="462" width="82.3" height="34.8" rx="4.6" fill="#29265f"/>
<text class="b w" x="96.9" y="471.5" font-size="8" textLength="34.8" lengthAdjust="spacingAndGlyphs">Chiriquí</text>
<text class="b w" x="91.2" y="482.5" font-size="10.8" textLength="46.3" lengthAdjust="spacingAndGlyphs">187.778</text>
<text class="b w" x="103.6" y="491.8" font-size="8.6" textLength="21.5" lengthAdjust="spacingAndGlyphs">9,5%</text>
</g>
<g><polygon fill="#232a70" points="278.5,565.0 289.0,565.0 266.5,501.6"/>
<polyline fill="none" stroke="#fff" stroke-width="0.65" stroke-opacity="0.9" points="278.5,565.0 266.5,501.6 289.0,565.0"/>
<rect x="266.2" y="564.5" width="82.3" height="34.5" rx="4.6" fill="#232a70"/>
<text class="b w" x="287.1" y="573.8" font-size="8.4" textLength="40.5" lengthAdjust="spacingAndGlyphs">Veraguas</text>
<text class="b w" x="284.1" y="585.5" font-size="11.2" textLength="46.6" lengthAdjust="spacingAndGlyphs">110.884</text>
<text class="b w" x="296.6" y="595.5" font-size="8.4" textLength="21.5" lengthAdjust="spacingAndGlyphs">5,6%</text>
</g>
<g><polygon fill="#171f4a" points="479.5,460.0 479.5,469.7 417.6,478.2"/>
<polyline fill="none" stroke="#fff" stroke-width="0.65" stroke-opacity="0.9" points="479.5,460.0 417.6,478.2 479.5,469.7"/>
<rect x="479" y="456" width="82.2" height="34.8" rx="4.6" fill="#171f4a"/>
<text class="b w" x="503.8" y="465.5" font-size="8.4" textLength="32.7" lengthAdjust="spacingAndGlyphs">Herrera</text>
<text class="b w" x="500.6" y="476.5" font-size="11.6" textLength="39" lengthAdjust="spacingAndGlyphs">55.727</text>
<text class="b w" x="509.5" y="485.8" font-size="8.2" textLength="21.2" lengthAdjust="spacingAndGlyphs">2,8%</text>
</g>
<g><polygon fill="#232c85" points="516.0,580.0 516.0,589.0 467.3,545.5"/>
<polyline fill="none" stroke="#fff" stroke-width="0.65" stroke-opacity="0.9" points="516.0,580.0 467.3,545.5 516.0,589.0"/>
<rect x="515.5" y="568.2" width="82.0" height="34.6" rx="4.6" fill="#232c85"/>
<text class="b w" x="533.4" y="577" font-size="8.2" textLength="46.2" lengthAdjust="spacingAndGlyphs">Los Santos</text>
<text class="b w" x="536.5" y="588" font-size="11.2" textLength="40" lengthAdjust="spacingAndGlyphs">48.713</text>
<text class="b w" x="545.5" y="597.2" font-size="8.4" textLength="22" lengthAdjust="spacingAndGlyphs">2,5%</text>
</g>
<g><polygon fill="#1b4a7a" points="526.3,425.0 526.3,434.0 464.8,417.6"/>
<polyline fill="none" stroke="#fff" stroke-width="0.65" stroke-opacity="0.9" points="526.3,425.0 464.8,417.6 526.3,434.0"/>
<rect x="525.8" y="415" width="81.4" height="34.5" rx="4.6" fill="#1b4a7a"/>
<text class="b w" x="555.0" y="424" font-size="7.8" textLength="23" lengthAdjust="spacingAndGlyphs">Coclé</text>
<text class="b w" x="543.1" y="434.8" font-size="11.6" textLength="46.7" lengthAdjust="spacingAndGlyphs">129.140</text>
<text class="b w" x="555.5" y="444.3" font-size="8.2" textLength="22" lengthAdjust="spacingAndGlyphs">6,5%</text>
</g>
<g><polygon fill="#0f62ad" points="562.7,374.5 562.7,384.0 500.4,366.2"/>
<polyline fill="none" stroke="#fff" stroke-width="0.65" stroke-opacity="0.9" points="562.7,374.5 500.4,366.2 562.7,384.0"/>
<rect x="562.2" y="364" width="81.8" height="34.8" rx="4.6" fill="#0f62ad"/>
<text class="b w" x="571.7" y="374.5" font-size="8.4" textLength="62.8" lengthAdjust="spacingAndGlyphs">Panamá Oeste</text>
<text class="b w" x="579.6" y="385.5" font-size="11.2" textLength="47" lengthAdjust="spacingAndGlyphs">302.973</text>
<text class="b w" x="589.9" y="394.5" font-size="8" textLength="26.5" lengthAdjust="spacingAndGlyphs">15,2%</text>
</g>
<g><polygon fill="#1c4a7b" points="675.0,356.7 689.5,356.7 651.5,305.0"/>
<polyline fill="none" stroke="#fff" stroke-width="0.65" stroke-opacity="0.9" points="675.0,356.7 651.5,305.0 689.5,356.7"/>
<rect x="651" y="356.2" width="81.0" height="34.6" rx="4.6" fill="#1c4a7b"/>
<text class="b w" x="674.2" y="365.8" font-size="8.2" textLength="34.6" lengthAdjust="spacingAndGlyphs">Panamá</text>
<text class="b w" x="667.9" y="376.8" font-size="11.6" textLength="47.2" lengthAdjust="spacingAndGlyphs">832.402</text>
<text class="b w" x="678.0" y="386" font-size="8.2" textLength="27" lengthAdjust="spacingAndGlyphs">41,9%</text>
</g>
<g><polygon fill="#272e93" points="468.5,265.3 478.5,265.3 500.4,299.2"/>
<polyline fill="none" stroke="#fff" stroke-width="0.65" stroke-opacity="0.9" points="468.5,265.3 500.4,299.2 478.5,265.3"/>
<rect x="421" y="231.2" width="82.0" height="34.6" rx="4.6" fill="#272e93"/>
<text class="b w" x="449.6" y="241.2" font-size="8" textLength="24.7" lengthAdjust="spacingAndGlyphs">Colón</text>
<text class="b w" x="438.8" y="252.2" font-size="11.5" textLength="46.5" lengthAdjust="spacingAndGlyphs">126.913</text>
<text class="b w" x="451.2" y="261.8" font-size="8.4" textLength="21.5" lengthAdjust="spacingAndGlyphs">6,4%</text>
</g>
<g><polygon fill="#2b3f9c" points="744.5,232.3 753.0,232.3 774.4,265.3"/>
<polyline fill="none" stroke="#fff" stroke-width="0.65" stroke-opacity="0.9" points="744.5,232.3 774.4,265.3 753.0,232.3"/>
<rect x="697" y="198.5" width="81.5" height="34.3" rx="4.6" fill="#2b3f9c"/>
<text class="b w" x="700.2" y="208.8" font-size="8.1" textLength="75" lengthAdjust="spacingAndGlyphs">Comarca Guna Yala</text>
<text class="b w" x="718.2" y="219.8" font-size="11.6" textLength="39" lengthAdjust="spacingAndGlyphs">15.886</text>
<text class="b w" x="727.9" y="229.5" font-size="7.2" textLength="19.8" lengthAdjust="spacingAndGlyphs">0,8%</text>
</g>
<g><polygon fill="#29296b" points="922.0,325.5 931.5,325.5 907.6,390.6"/>
<polyline fill="none" stroke="#fff" stroke-width="0.65" stroke-opacity="0.9" points="922.0,325.5 907.6,390.6 931.5,325.5"/>
<rect x="893.5" y="291.8" width="82.0" height="34.2" rx="4.6" fill="#29296b"/>
<text class="b w" x="897.6" y="302" font-size="8.4" textLength="73.7" lengthAdjust="spacingAndGlyphs">Comarca Emberá</text>
<text class="b w" x="918.5" y="313" font-size="11.9" textLength="32" lengthAdjust="spacingAndGlyphs">3.801</text>
<text class="b w" x="923.8" y="322.5" font-size="8" textLength="21.5" lengthAdjust="spacingAndGlyphs">0,2%</text>
</g>
<g><polygon fill="#1a8ac2" points="765.0,468.3 769.2,475.5 815.8,429.7"/>
<polyline fill="none" stroke="#fff" stroke-width="0.65" stroke-opacity="0.9" points="765.0,468.3 815.8,429.7 769.2,475.5"/>
<rect x="688" y="468" width="81.5" height="34.5" rx="4.6" fill="#1a8ac2"/>
<text class="b w" x="714.4" y="477.3" font-size="8.1" textLength="28.7" lengthAdjust="spacingAndGlyphs">Darién</text>
<text class="b w" x="708.8" y="488.5" font-size="11.6" textLength="40" lengthAdjust="spacingAndGlyphs">25.445</text>
<text class="b w" x="718.5" y="497.8" font-size="8.2" textLength="20.6" lengthAdjust="spacingAndGlyphs">1,3%</text>
</g>
</svg></body></html>
